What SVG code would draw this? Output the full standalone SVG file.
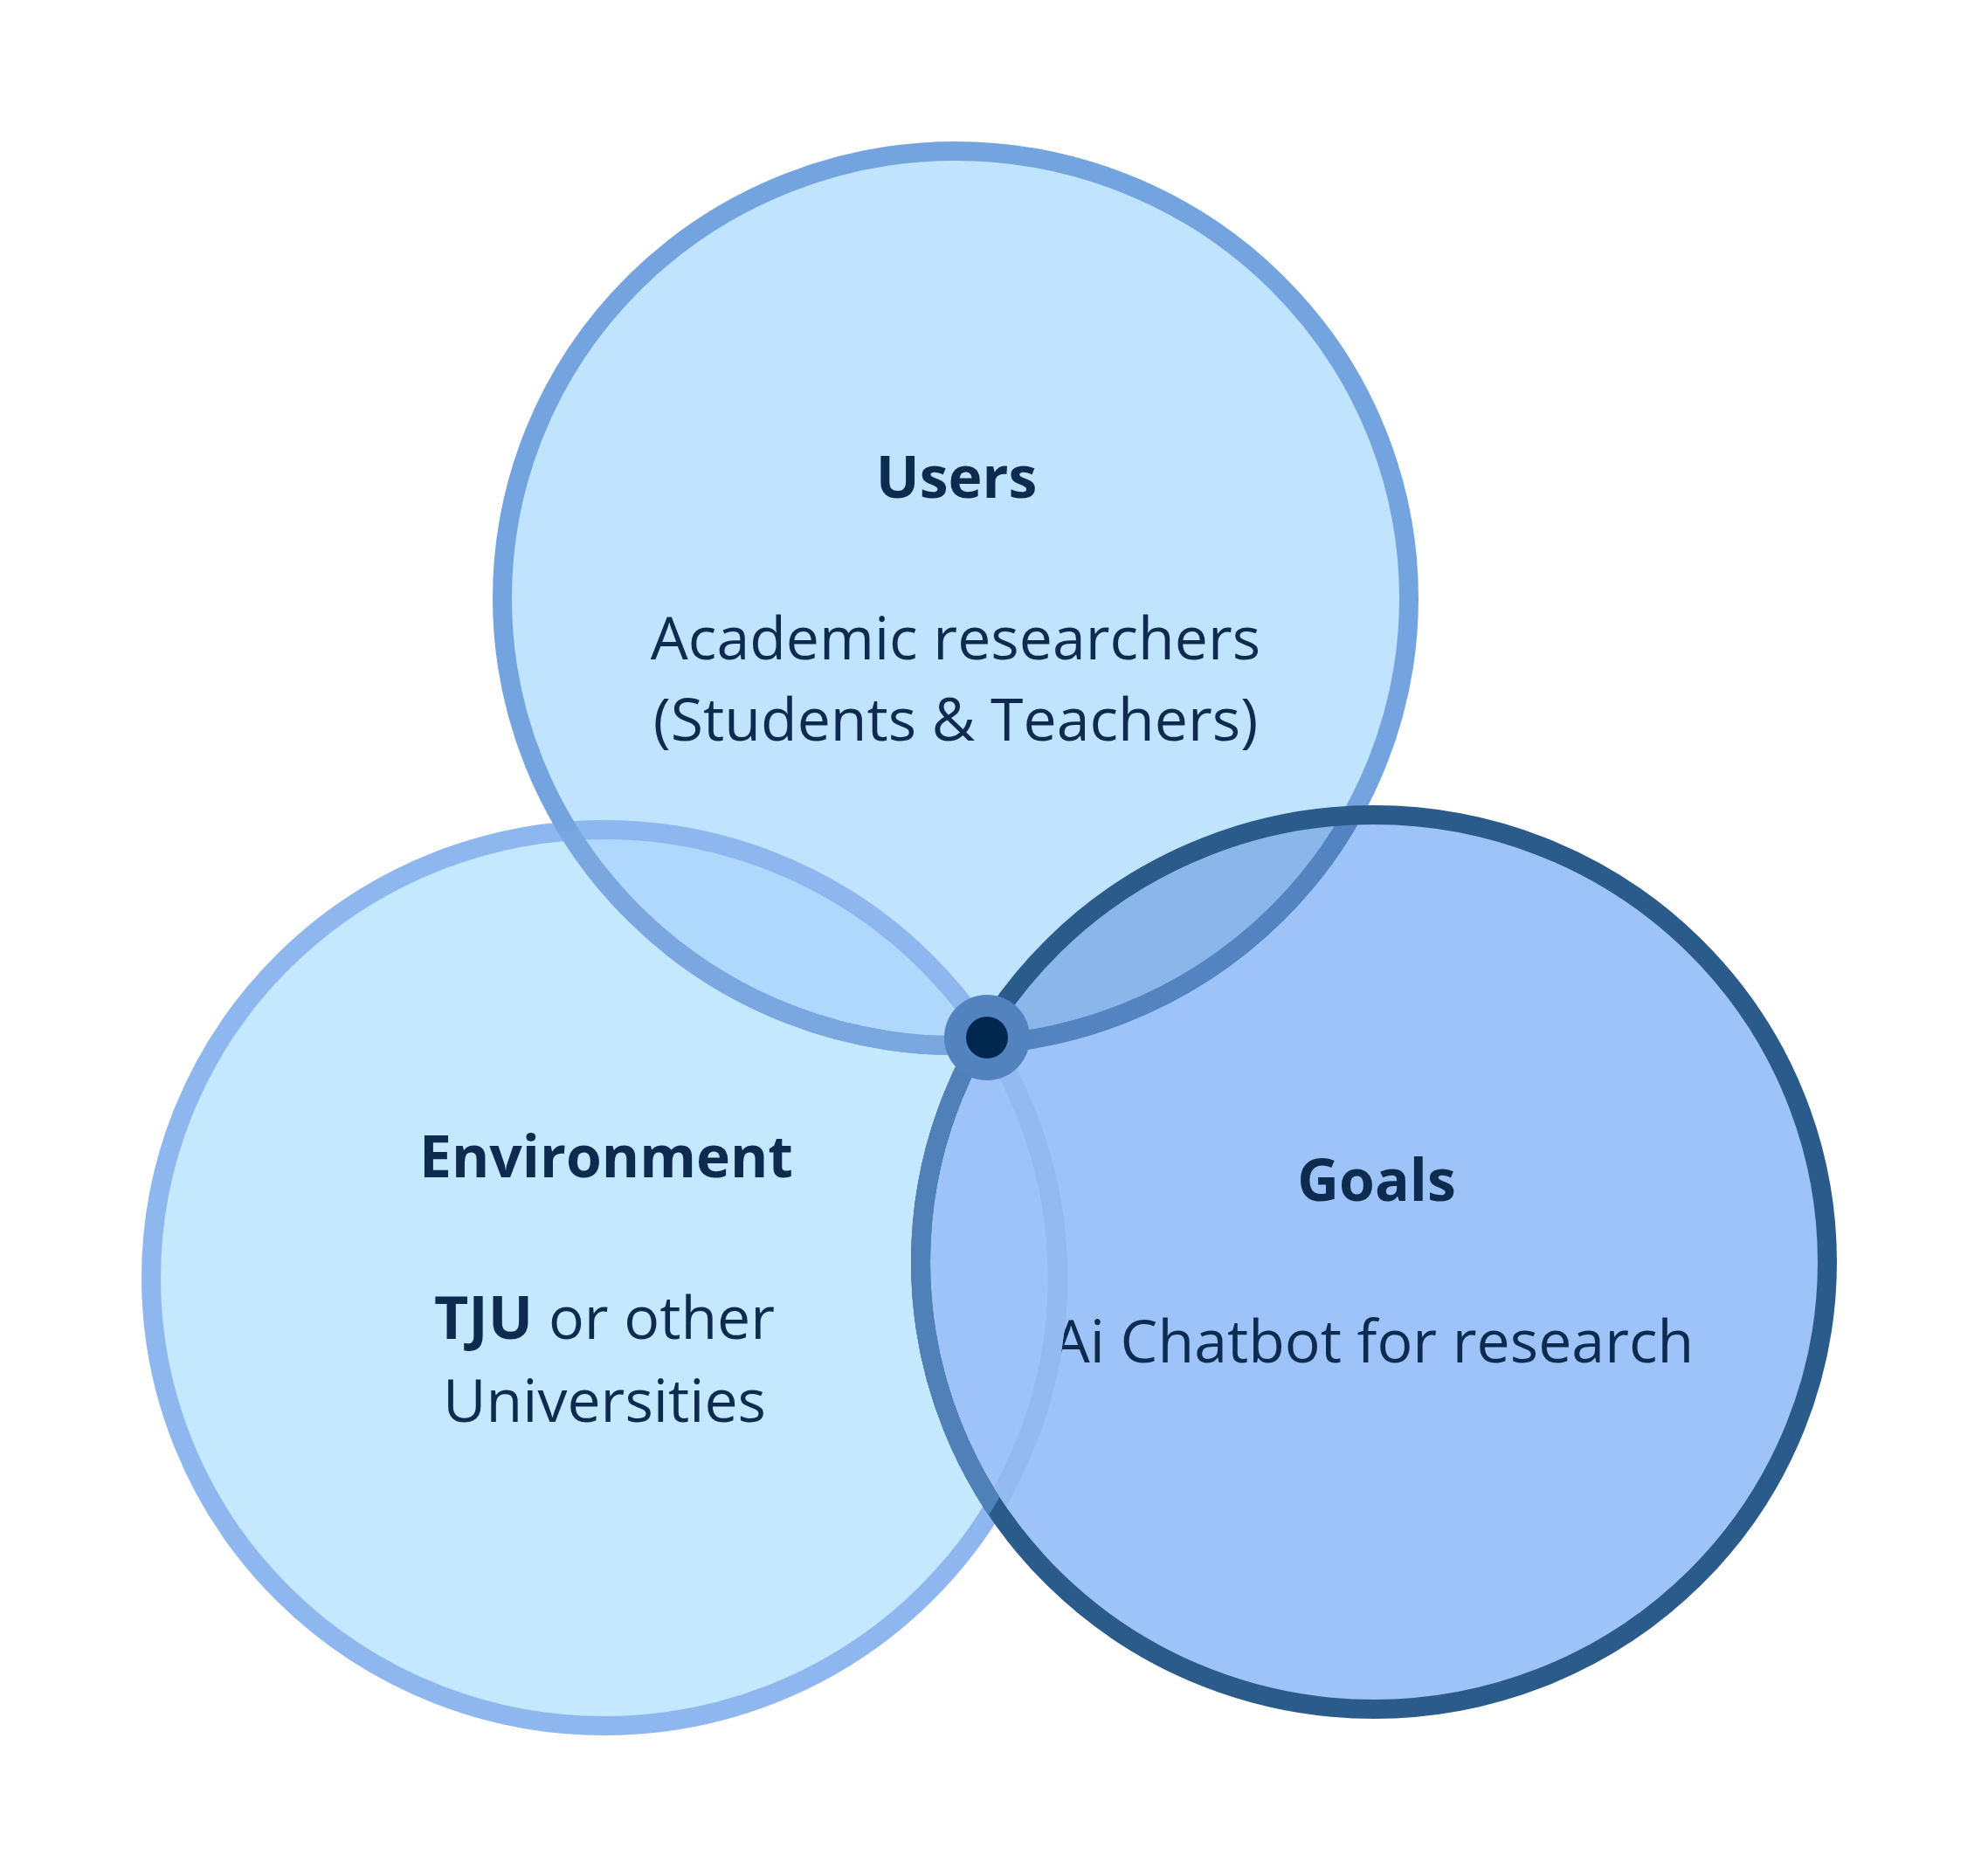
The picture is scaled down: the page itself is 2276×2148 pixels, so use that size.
<svg xmlns="http://www.w3.org/2000/svg" width="2276" height="2148" viewBox="0 0 2276 2148">
<style>
.lbl{font-family:"Open Sans","Noto Sans","Liberation Sans",sans-serif;fill:#0d2b4e;text-anchor:middle;font-size:68px}
.hd{font-weight:700;font-size:66px}
.ring{fill:none;stroke-width:22}
</style>
<defs>
<clipPath id="cE"><ellipse cx="692" cy="1463" rx="519" ry="513"/></clipPath>
<clipPath id="cG"><ellipse cx="1573" cy="1445" rx="519" ry="512"/></clipPath>
<clipPath id="cGin"><ellipse cx="1573" cy="1445" rx="508" ry="501"/></clipPath>
</defs>
<rect width="2276" height="2148" fill="#ffffff"/>
<g id="environment">
<ellipse cx="692" cy="1463" rx="519" ry="513" fill="#c4e8fe"/>
<text class="lbl hd" x="694" y="1348">Environment</text>
<text class="lbl" x="692" y="1533"><tspan font-weight="700">TJU</tspan> or other</text>
<text class="lbl" x="692" y="1628">Universities</text>
</g>
<g id="users">
<ellipse cx="1094" cy="685" rx="519" ry="512" fill="#c0e4fd"/>
<text class="lbl hd" x="1095" y="570">Users</text>
<text class="lbl" x="1094" y="755">Academic researchers</text>
<text class="lbl" x="1094" y="848">(Students &amp; Teachers)</text>
</g>
<g id="goals">
<ellipse cx="1573" cy="1445" rx="519" ry="512" fill="#9dc3f8"/>
<text class="lbl hd" x="1576" y="1375">Goals</text>
<text class="lbl" x="1572" y="1560">Ai Chatbot for research</text>
</g>
<g id="connectors">
<ellipse cx="1094" cy="685" rx="519" ry="512" fill="#b0d8fc" clip-path="url(#cE)"/>
<ellipse cx="1094" cy="685" rx="519" ry="512" fill="#8ab6ea" clip-path="url(#cG)"/>
<ellipse class="ring" cx="692" cy="1463" rx="519" ry="513" stroke="#8fb7ef"/>
<ellipse class="ring" cx="1094" cy="685" rx="519" ry="512" stroke="#73a4df"/>
<ellipse class="ring" cx="1094" cy="685" rx="519" ry="512" stroke="#7aa7e0" clip-path="url(#cE)"/>
<ellipse class="ring" cx="1094" cy="685" rx="519" ry="512" stroke="#5383c0" clip-path="url(#cG)"/>
<ellipse class="ring" cx="1573" cy="1445" rx="519" ry="512" stroke="#2b5b8a"/>
<ellipse class="ring" cx="1573" cy="1445" rx="519" ry="512" stroke="#4f80b8" clip-path="url(#cE)"/>
<ellipse class="ring" cx="692" cy="1463" rx="519" ry="513" stroke="#93bbf2" clip-path="url(#cGin)"/>
</g>
<g id="center-dot">
<circle cx="1130" cy="1188" r="49" fill="#5383bf"/>
<circle cx="1130" cy="1188" r="24" fill="#00284f"/>
</g>
</svg>
